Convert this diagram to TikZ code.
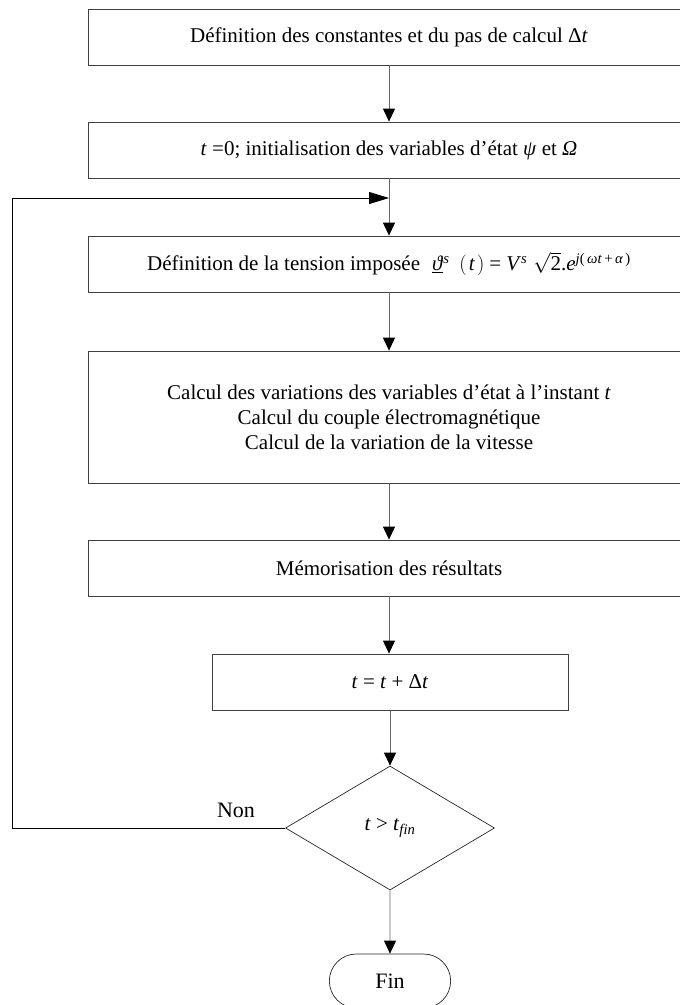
\documentclass[tikz,border=0pt]{standalone}
\usepackage{fontspec}
\setmainfont{Liberation Serif}
\usetikzlibrary{positioning,shapes.geometric,shapes.misc,arrows.meta}

\begin{document}
\begin{tikzpicture}[x=1pt,y=-1pt,
    bloc/.style={draw=black!75,line width=0.8pt,minimum width=602pt,minimum height=56pt,
        inner sep=0pt,align=center,font=\fontsize{21}{25}\selectfont},
    fleche/.style={draw=black!60,line width=0.9pt,-{Triangle[width=12pt,length=13pt,black]}},
    retour/.style={draw=black,line width=0.8pt}]
    \useasboundingbox (0,0) rectangle (680,1005);
    % les blocs
    \node[bloc] (defc) at (389,37) {Définition des constantes et du pas de calcul Δ\textit{t}};
    \node[bloc] (init) at (389,150) {\textit{t} =0; initialisation des variables d’état \textit{ψ} et \textit{Ω}};
    \node[bloc] (tens) at (389,264) {Définition de la tension imposée\hspace{12pt}%
        \underline{\textit{ϑ}}\textsuperscript{\textit{s}}\hspace{10pt}$\Big($\hspace{2pt}\textit{t}\hspace{2pt}$\Big)$\hspace{5pt}=\hspace{5pt}\textit{V}\textsuperscript{\textit{s}}\hspace{6pt}$\sqrt{\mbox{2}}$.\textit{e}\textsuperscript{\textit{j}(\,\textit{ωt}\,+\,\textit{α}\,)}};
    \node[bloc,minimum height=132pt] (calc) at (389,417) {Calcul des variations des variables d’état à l’instant \textit{t}\\
        Calcul du couple électromagnétique\\Calcul de la variation de la vitesse};
    \node[bloc] (memo) at (389,568) {Mémorisation des résultats};
    \node[bloc,minimum width=356pt] (incr) at (390,682) {\textit{t} = \textit{t} + Δ\textit{t}};
    \node[diamond,draw=black!85,line width=0.7pt,minimum width=209pt,minimum height=124pt,inner sep=0pt,
        font=\fontsize{21}{25}\selectfont] (test) at (390,828) {\textit{t} > \textit{t}\textsubscript{\textit{fin}}};
    \node[rounded rectangle,draw=black!85,line width=0.7pt,minimum width=128pt,minimum height=54pt,
        font=\fontsize{22}{25}\selectfont] (fin) at (390,981) {Fin};
    % les liaisons
    \draw[fleche] (defc) -- (init);
    \draw[fleche] (init) -- (tens);
    \draw[fleche] (tens) -- (calc);
    \draw[fleche] (calc) -- (memo);
    \draw[fleche] (memo.south) -- (memo.south |- incr.north);
    \draw[fleche] (incr.south) -- (incr.south |- test.north);
    \draw[fleche] (test) -- (fin);
    % boucle
    \coordinate (jonc) at (389,198);
    \coordinate (coin) at (12,828);
    \draw[retour] (test.west) -- (coin) -- (coin |- jonc);
    \draw[retour,-{Triangle[width=12pt,length=20pt]}] (coin |- jonc) -- (jonc);
    \node[font=\fontsize{22}{25}\selectfont,anchor=base] (non) at (236,817) {Non};
\end{tikzpicture}
\end{document}
